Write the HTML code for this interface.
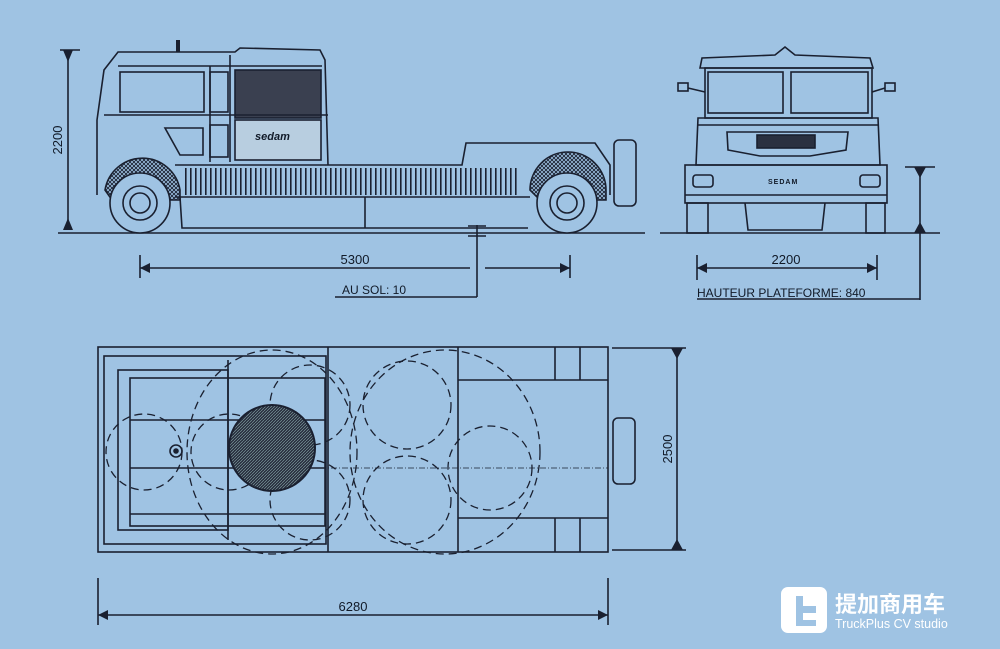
<!DOCTYPE html>
<html><head><meta charset="utf-8"><style>
html,body{margin:0;padding:0;background:#9fc3e3;}
svg{display:block}
text{font-family:"Liberation Sans",sans-serif;fill:#111a28}
</style></head><body>
<svg width="1000" height="649" viewBox="0 0 1000 649" xmlns="http://www.w3.org/2000/svg">
<defs>
<pattern id="hx" width="4" height="4" patternUnits="userSpaceOnUse"><path d="M0 4L4 0M0 0L4 4" stroke="#1a2030" stroke-width="0.9"/></pattern>
<pattern id="hd" width="3" height="3" patternUnits="userSpaceOnUse"><rect width="3" height="3" fill="#2a3040"/><path d="M0 3L3 0" stroke="#8aa" stroke-width="0.6"/></pattern>
<pattern id="vl" width="5" height="30" patternUnits="userSpaceOnUse"><rect x="0" y="0" width="1.6" height="30" fill="#1a2030"/></pattern>
</defs>
<rect width="1000" height="649" fill="#9fc3e3"/>
<g stroke="#1a2030" stroke-width="1.6" fill="none">
<!-- SIDE VIEW -->
<line x1="58" y1="233" x2="645" y2="233"/>
<!-- cab -->
<path d="M97 195 L97 120 L104 70 L118 52 L235 52 L240 48 L320 50 L325 60 L328 165"/>
<line x1="118" y1="66" x2="322" y2="66"/>
<rect x="120" y="72" width="84" height="40" fill="#9fc3e3"/>
<rect x="210" y="72" width="18" height="40"/>
<rect x="235" y="70" width="86" height="48" fill="#3a4050"/>
<line x1="230" y1="55" x2="230" y2="162"/>
<line x1="210" y1="66" x2="210" y2="162"/>
<line x1="104" y1="115" x2="328" y2="115"/>
<rect x="210" y="125" width="18" height="32"/>
<path d="M165 128 L203 128 L203 155 L180 155 Z"/>
<rect x="235" y="120" width="86" height="40" fill="#b8cee0"/>
<text x="255" y="140" font-size="11" font-style="italic" font-weight="bold" stroke="none">sedam</text>
<line x1="178" y1="40" x2="178" y2="52" stroke-width="4"/>
<!-- chassis -->
<path d="M175 165 L462 165 L466 143 L595 143 L610 165 L610 195"/>
<rect x="182" y="168" width="336" height="27" fill="url(#vl)" stroke="none"/>
<line x1="175" y1="197" x2="530" y2="197"/>
<path d="M180 197 L182 228 L528 228"/>
<line x1="365" y1="197" x2="365" y2="228"/>
<!-- fenders -->
<path d="M105 190 A38 38 0 0 1 180 190 L180 200 L170 200 A30 30 0 0 0 112 200 Z" fill="url(#hx)"/>
<path d="M530 190 A38 38 0 0 1 606 190 L606 200 L596 200 A30 30 0 0 0 540 200 Z" fill="url(#hx)"/>
<!-- wheels -->
<circle cx="140" cy="203" r="30" fill="#9fc3e3"/><circle cx="140" cy="203" r="17"/><circle cx="140" cy="203" r="10"/>
<circle cx="567" cy="203" r="30" fill="#9fc3e3"/><circle cx="567" cy="203" r="17"/><circle cx="567" cy="203" r="10"/>
<rect x="614" y="140" width="22" height="66" rx="5"/>
<!-- dims -->
<line x1="60" y1="50" x2="80" y2="50"/>
<line x1="68" y1="50" x2="68" y2="230"/>
<line x1="140" y1="255" x2="140" y2="278"/>
<line x1="570" y1="255" x2="570" y2="278"/>
<line x1="140" y1="268" x2="470" y2="268"/>
<line x1="485" y1="268" x2="570" y2="268"/>
<line x1="477" y1="225" x2="477" y2="297"/>
<line x1="468" y1="226" x2="486" y2="226"/><line x1="468" y1="236" x2="486" y2="236"/>
<line x1="335" y1="297" x2="477" y2="297"/>
<!-- FRONT VIEW -->
<line x1="660" y1="233" x2="940" y2="233"/>
<path d="M700 68 L702 58 L775 55 L785 47 L795 55 L870 58 L873 68 Z"/>
<rect x="705" y="68" width="167" height="50"/>
<rect x="708" y="72" width="75" height="41"/>
<rect x="791" y="72" width="77" height="41"/>
<path d="M698 118 L878 118 L880 165 L696 165 Z"/>
<line x1="698" y1="125" x2="878" y2="125"/>
<path d="M727 132 L848 132 L846 150 L810 156 L760 156 L728 150 Z"/>
<rect x="757" y="135" width="58" height="13" fill="#2a3040"/>
<rect x="685" y="165" width="202" height="38"/>
<line x1="685" y1="195" x2="887" y2="195"/>
<rect x="693" y="175" width="20" height="12" rx="3"/>
<rect x="860" y="175" width="20" height="12" rx="3"/>
<text x="768" y="184" font-size="7" font-weight="bold" stroke="none" letter-spacing="1">SEDAM</text>
<rect x="687" y="203" width="21" height="30"/>
<rect x="866" y="203" width="19" height="30"/>
<path d="M745 203 L748 230 L822 230 L825 203"/>
<rect x="678" y="83" width="10" height="8"/><line x1="688" y1="88" x2="705" y2="92"/>
<rect x="885" y="83" width="10" height="8"/><line x1="872" y1="92" x2="885" y2="88"/>
<line x1="697" y1="255" x2="697" y2="280"/>
<line x1="877" y1="255" x2="877" y2="280"/>
<line x1="697" y1="268" x2="877" y2="268"/>
<line x1="905" y1="167" x2="935" y2="167"/>
<line x1="920" y1="167" x2="920" y2="300"/>
<line x1="697" y1="299" x2="920" y2="299"/>
<!-- TOP VIEW -->
<rect x="98" y="347" width="510" height="205"/>
<rect x="104" y="356" width="222" height="188"/>
<rect x="118" y="370" width="110" height="160"/>
<rect x="130" y="378" width="195" height="148"/>
<line x1="130" y1="420" x2="325" y2="420"/><line x1="130" y1="468" x2="325" y2="468"/><line x1="130" y1="514" x2="325" y2="514"/>
<line x1="228" y1="360" x2="228" y2="540"/>
<line x1="328" y1="347" x2="328" y2="552"/>
<line x1="458" y1="347" x2="458" y2="552"/>
<path d="M458 380 L608 380 M458 518 L608 518 M555 347 L555 380 M580 347 L580 380 M555 518 L555 552 M580 518 L580 552"/>
<g stroke-dasharray="8 5" stroke-width="1.3">
<circle cx="144" cy="452" r="38"/>
<circle cx="229" cy="452" r="38"/>
<circle cx="310" cy="405" r="40"/>
<circle cx="310" cy="500" r="40"/>
<ellipse cx="272" cy="452" rx="85" ry="102"/>
<circle cx="407" cy="405" r="44"/>
<circle cx="407" cy="500" r="44"/>
<circle cx="490" cy="468" r="42"/>
<ellipse cx="445" cy="452" rx="95" ry="102"/>
</g>
<line x1="320" y1="468" x2="608" y2="468" stroke-width="0.8" stroke-dasharray="6 2 1 2"/>
<circle cx="272" cy="448" r="43" fill="url(#hd)" stroke-width="2"/>
<circle cx="176" cy="451" r="6"/><circle cx="176" cy="451" r="2" fill="#1a2030"/>
<rect x="613" y="418" width="22" height="66" rx="5"/>
<line x1="612" y1="348" x2="686" y2="348"/>
<line x1="612" y1="550" x2="686" y2="550"/>
<line x1="677" y1="348" x2="677" y2="550"/>
<line x1="98" y1="578" x2="98" y2="625"/>
<line x1="608" y1="578" x2="608" y2="625"/>
<line x1="98" y1="615" x2="608" y2="615"/>
</g>
<g fill="#1a2030">
<path d="M63 50 L73 50 L68 62 Z"/><path d="M63 230 L73 230 L68 218 Z"/>
<path d="M140 268 L150 263 L150 273 Z"/><path d="M570 268 L560 263 L560 273 Z"/>
<path d="M697 268 L707 263 L707 273 Z"/><path d="M877 268 L867 263 L867 273 Z"/>
<path d="M914 167 L926 167 L920 178 Z"/><path d="M914 233 L926 233 L920 222 Z"/>
<path d="M671 348 L683 348 L677 359 Z"/><path d="M671 550 L683 550 L677 539 Z"/>
<path d="M98 615 L108 610 L108 620 Z"/><path d="M608 615 L598 610 L598 620 Z"/>
</g>
<text x="62" y="140" font-size="13" transform="rotate(-90 62 140)" text-anchor="middle">2200</text>
<text x="355" y="264" font-size="13" text-anchor="middle">5300</text>
<text x="342" y="294" font-size="12">AU SOL: 10</text>
<text x="786" y="264" font-size="13" text-anchor="middle">2200</text>
<text x="697" y="297" font-size="12">HAUTEUR PLATEFORME: 840</text>
<text x="672" y="449" font-size="13" transform="rotate(-90 672 449)" text-anchor="middle">2500</text>
<text x="353" y="611" font-size="13" text-anchor="middle">6280</text>
<!-- logo -->
<rect x="781" y="587" width="46" height="46" rx="7" fill="#ffffff"/>
<path d="M796 596 L803 596 L803 606 L816 606 L816 613 L803 613 L803 620 L816 620 L816 626 L796 626 Z" fill="#9fc3e3"/>
<text x="835" y="612" font-size="22" font-weight="bold" style="fill:#fff;font-family:'Liberation Sans','Noto Sans CJK SC',sans-serif">提加商用车</text>
<text x="835" y="628" font-size="12.5" style="fill:#fff">TruckPlus CV studio</text>
</svg>
</body></html>
